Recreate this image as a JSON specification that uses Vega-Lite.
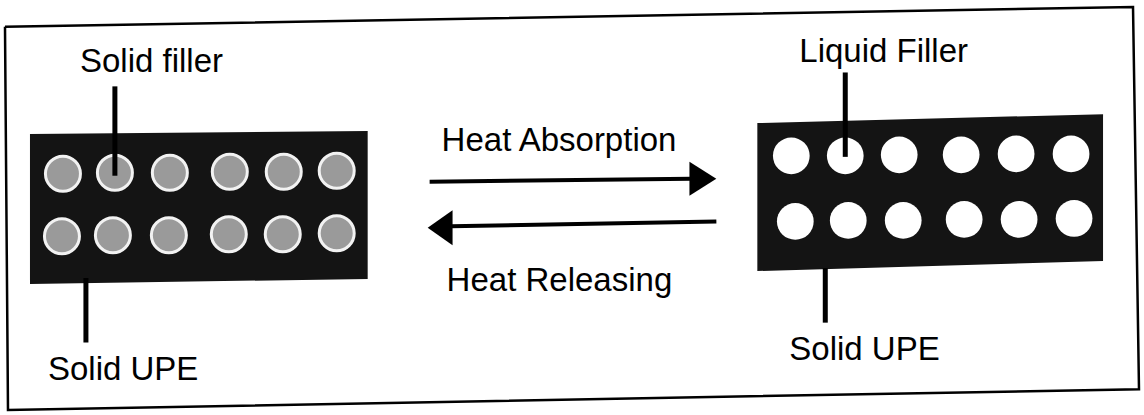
{
  "$schema": "https://vega.github.io/schema/vega-lite/v6.json",
  "width": 1144,
  "height": 415,
  "padding": 0,
  "autosize": {"type": "fit", "contains": "padding"},
  "background": "white",
  "config": {"view": {"stroke": null}},
  "datasets": {
    "frame": [
      {"o": 1, "x": 5, "y": 27},
      {"o": 2, "x": 1134, "y": 7},
      {"o": 3, "x": 1140, "y": 392},
      {"o": 4, "x": 8, "y": 413},
      {"o": 5, "x": 5, "y": 27}
    ],
    "blocks": [
      {"g": "L", "x": 30, "y": 135, "y2": 286},
      {"g": "L", "x": 368, "y": 132, "y2": 281},
      {"g": "R", "x": 758, "y": 124, "y2": 273},
      {"g": "R", "x": 1104, "y": 115, "y2": 263}
    ],
    "solid": [
      {"x": 63, "y": 175}, {"x": 115, "y": 174}, {"x": 170, "y": 174}, {"x": 230, "y": 173}, {"x": 284, "y": 173}, {"x": 337, "y": 172},
      {"x": 62, "y": 238}, {"x": 113, "y": 237}, {"x": 169, "y": 237}, {"x": 229, "y": 236}, {"x": 283, "y": 236}, {"x": 337, "y": 235}
    ],
    "liquid": [
      {"x": 792, "y": 157}, {"x": 846, "y": 157}, {"x": 900, "y": 156}, {"x": 962, "y": 156}, {"x": 1017, "y": 155}, {"x": 1072, "y": 155},
      {"x": 796, "y": 223}, {"x": 849, "y": 222}, {"x": 904, "y": 222}, {"x": 965, "y": 221}, {"x": 1020, "y": 221}, {"x": 1075, "y": 220}
    ],
    "leaders": [
      {"x": 115, "y": 87, "y2": 177},
      {"x": 86, "y": 280, "y2": 345},
      {"x": 846, "y": 73, "y2": 158},
      {"x": 826, "y": 270, "y2": 325}
    ],
    "shafts": [
      {"x": 430, "y": 183, "x2": 692, "y2": 180},
      {"x": 717, "y": 223, "x2": 451, "y2": 228}
    ],
    "headRight": [{"x": 703.5, "y": 180}],
    "headLeft": [{"x": 440.5, "y": 229.5}],
    "labels": [
      {"x": 80, "y": 73, "t": "Solid filler"},
      {"x": 48, "y": 383, "t": "Solid UPE"},
      {"x": 800, "y": 62, "t": "Liquid Filler"},
      {"x": 790, "y": 363, "t": "Solid UPE"},
      {"x": 442, "y": 152, "t": "Heat Absorption"},
      {"x": 447, "y": 293, "t": "Heat Releasing"}
    ]
  },
  "layer": [
    {
      "data": {"name": "frame"},
      "mark": {"type": "line", "color": "black", "strokeWidth": 2.5},
      "encoding": {
        "x": {"field": "x", "type": "quantitative", "scale": {"domain": [0, 1144], "nice": false, "zero": false}, "axis": null},
        "y": {"field": "y", "type": "quantitative", "scale": {"domain": [0, 415], "nice": false, "zero": false, "reverse": true}, "axis": null},
        "order": {"field": "o"}
      }
    },
    {
      "data": {"name": "blocks"},
      "mark": {"type": "area", "color": "#141414", "orient": "vertical"},
      "encoding": {
        "x": {"field": "x", "type": "quantitative", "axis": null},
        "y": {"field": "y", "type": "quantitative", "axis": null},
        "y2": {"field": "y2"},
        "detail": {"field": "g"}
      }
    },
    {
      "data": {"name": "solid"},
      "mark": {"type": "point", "shape": "circle", "filled": true, "fill": "#9a9a9a", "stroke": "#f2f2f2", "strokeWidth": 3, "size": 1225, "opacity": 1},
      "encoding": {
        "x": {"field": "x", "type": "quantitative", "axis": null},
        "y": {"field": "y", "type": "quantitative", "axis": null}
      }
    },
    {
      "data": {"name": "liquid"},
      "mark": {"type": "point", "shape": "circle", "filled": true, "fill": "white", "size": 1350, "opacity": 1},
      "encoding": {
        "x": {"field": "x", "type": "quantitative", "axis": null},
        "y": {"field": "y", "type": "quantitative", "axis": null}
      }
    },
    {
      "data": {"name": "leaders"},
      "mark": {"type": "rule", "color": "black", "strokeWidth": 5},
      "encoding": {
        "x": {"field": "x", "type": "quantitative", "axis": null},
        "y": {"field": "y", "type": "quantitative", "axis": null},
        "y2": {"field": "y2"}
      }
    },
    {
      "data": {"name": "shafts"},
      "mark": {"type": "rule", "color": "black", "strokeWidth": 4},
      "encoding": {
        "x": {"field": "x", "type": "quantitative", "axis": null},
        "y": {"field": "y", "type": "quantitative", "axis": null},
        "x2": {"field": "x2"},
        "y2": {"field": "y2"}
      }
    },
    {
      "data": {"name": "headRight"},
      "mark": {"type": "point", "shape": "M -0.79 -1 L 0.79 0 L -0.79 1 Z", "filled": true, "color": "black", "size": 1156, "opacity": 1},
      "encoding": {
        "x": {"field": "x", "type": "quantitative", "axis": null},
        "y": {"field": "y", "type": "quantitative", "axis": null}
      }
    },
    {
      "data": {"name": "headLeft"},
      "mark": {"type": "point", "shape": "M 0.71 -1 L -0.71 0 L 0.71 1 Z", "filled": true, "color": "black", "size": 1225, "opacity": 1},
      "encoding": {
        "x": {"field": "x", "type": "quantitative", "axis": null},
        "y": {"field": "y", "type": "quantitative", "axis": null}
      }
    },
    {
      "data": {"name": "labels"},
      "mark": {"type": "text", "align": "left", "baseline": "alphabetic", "font": "Liberation Sans", "fontSize": 33, "color": "black"},
      "encoding": {
        "x": {"field": "x", "type": "quantitative", "axis": null},
        "y": {"field": "y", "type": "quantitative", "axis": null},
        "text": {"field": "t"}
      }
    }
  ]
}
